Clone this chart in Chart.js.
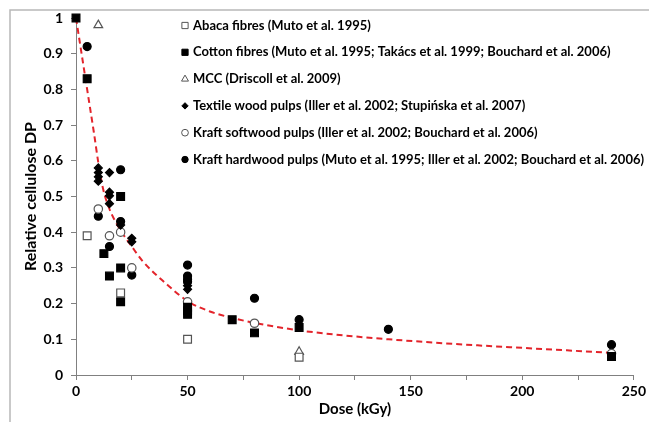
<!DOCTYPE html>
<html>
<head>
<meta charset="utf-8">
<script src="https://cdn.jsdelivr.net/npm/chart.js@4.4.1/dist/chart.umd.min.js"></script>
<style>
    html, body { margin: 0; padding: 0; background: #fff; }
    #wrap { position: relative; width: 649px; height: 422px; }
</style>
</head>
<body>
<div id="wrap"><canvas id="chart" width="649" height="422"></canvas></div>
<script>
// values (dose in kGy, relative DP)
const abacaDose    = [5, 20, 50, 100]
const abacaDP      = [0.39, 0.23, 0.10, 0.05]

const cottonDose   = [0, 5, 12.5, 15, 20, 20, 20, 50, 50, 50, 70, 80, 100, 240]
const cottonDP     = [1.0, 0.83, 0.34, 0.277, 0.50, 0.30, 0.205, 0.19, 0.18, 0.17, 0.155, 0.118, 0.133, 0.052]

const mccDose      = [10, 100]
const mccDP        = [0.98, 0.065]

const textileDose  = [10, 10, 10, 10, 15, 15, 15, 15, 20, 25, 25, 50, 50]
const textileDP    = [0.58, 0.567, 0.555, 0.543, 0.567, 0.512, 0.502, 0.48, 0.42, 0.383, 0.373, 0.25, 0.24]

const softwoodDose = [10, 15, 20, 25, 50, 80, 240]
const softwoodDP   = [0.465, 0.39, 0.40, 0.30, 0.205, 0.145, 0.06]

const hardwoodDose = [5, 10, 15, 20, 20, 25, 50, 50, 50, 50, 80, 100, 140, 240]
const hardwoodDP   = [0.92, 0.445, 0.36, 0.575, 0.43, 0.28, 0.308, 0.277, 0.268, 0.261, 0.215, 0.155, 0.128, 0.085]

// red dashed trend line, read at these doses
const fitDose = [0, 2, 4, 6, 8, 10, 12, 15, 20, 25, 30, 40, 50, 60, 70, 80, 100, 120, 140, 160, 180, 200, 220, 240]
const fitDP   = [1.0, 0.92, 0.84, 0.76, 0.68, 0.595, 0.525, 0.465, 0.405, 0.36, 0.318, 0.258, 0.207, 0.178, 0.16, 0.146, 0.125, 0.111, 0.10, 0.091, 0.083, 0.076, 0.069, 0.062]

const seriesNames = [
    'Abaca fibres (Muto et al. 1995)',
    'Cotton fibres (Muto et al. 1995; Takács et al. 1999; Bouchard et al. 2006)',
    'MCC (Driscoll et al. 2009)',
    'Textile wood pulps (Iller et al. 2002; Stupińska et al. 2007)',
    'Kraft softwood pulps (Iller et al. 2002; Bouchard et al. 2006)',
    'Kraft hardwood pulps (Muto et al. 1995; Iller et al. 2002; Bouchard et al. 2006)'
]

const xTicks = [0, 50, 100, 150, 200, 250]

function pairs(xs, ys) {
    return xs.map((x, i) => ({ x: x, y: ys[i] }))
}

function series(name, xs, ys, style, radius, fill, stroke) {
    return {
        label: name,
        data: pairs(xs, ys),
        pointStyle: style,
        pointRadius: radius,
        pointHoverRadius: radius,
        pointBackgroundColor: fill,
        pointBorderColor: stroke,
        pointBorderWidth: 1.2,
        showLine: false,
        clip: false
    }
}

let datasets = [
    series(seriesNames[0], abacaDose, abacaDP, 'rect', 5.5, '#fff', '#555'),
    series(seriesNames[1], cottonDose, cottonDP, 'rect', 5.5, '#000', '#000'),
    series(seriesNames[2], mccDose, mccDP, 'triangle', 5, '#fff', '#555'),
    series(seriesNames[3], textileDose, textileDP, 'rectRot', 4, '#000', '#000'),
    series(seriesNames[4], softwoodDose, softwoodDP, 'circle', 4.2, '#fff', '#555'),
    series(seriesNames[5], hardwoodDose, hardwoodDP, 'circle', 4, '#000', '#000'),
    {
        label: 'fit',
        data: pairs(fitDose, fitDP),
        showLine: true,
        borderColor: '#e3242b',
        borderWidth: 2,
        borderDash: [6, 4],
        pointRadius: 0,
        cubicInterpolationMode: 'monotone',
        clip: false
    }
]

function drawMarker(ctx, ds, x, y, r) {
    ctx.beginPath()
    if (ds.pointStyle === 'rect') {
        let s = r * Math.SQRT1_2
        ctx.rect(x - s, y - s, 2 * s, 2 * s)
    } else if (ds.pointStyle === 'rectRot') {
        ctx.moveTo(x, y - r); ctx.lineTo(x + r, y); ctx.lineTo(x, y + r); ctx.lineTo(x - r, y); ctx.closePath()
    } else if (ds.pointStyle === 'triangle') {
        ctx.moveTo(x, y - r); ctx.lineTo(x + r * 0.87, y + r * 0.5); ctx.lineTo(x - r * 0.87, y + r * 0.5); ctx.closePath()
    } else {
        ctx.arc(x, y, r, 0, Math.PI * 2)
    }
    ctx.fillStyle = ds.pointBackgroundColor
    ctx.strokeStyle = ds.pointBorderColor
    ctx.lineWidth = 1
    ctx.fill()
    ctx.stroke()
}

const framePlugin = {
    id: 'frame',
    beforeDraw(chart) {
        let ctx = chart.ctx
        ctx.save()
        ctx.fillStyle = '#fff'
        ctx.fillRect(0, 0, chart.width, chart.height)
        ctx.strokeStyle = '#b8b8b8'
        ctx.lineWidth = 1.5
        ctx.beginPath()
        ctx.moveTo(10, chart.height)
        ctx.lineTo(10, 10)
        ctx.lineTo(chart.width, 10)
        ctx.stroke()
        ctx.restore()
    }
}

const legendPlugin = {
    id: 'insideLegend',
    afterDraw(chart) {
        let ctx = chart.ctx
        ctx.save()
        seriesNames.forEach((name, i) => {
            let y = 25.5 + i * 26.8
            let ds = chart.data.datasets[i]
            drawMarker(ctx, ds, 185, y, ds.pointRadius * 0.8)
            ctx.font = 'bold 13px Lato'
            ctx.textBaseline = 'middle'
            ctx.fillStyle = '#000'
            ctx.fillText(name, 193, y)
        })
        ctx.restore()
    }
}

Chart.defaults.font.family = 'Lato'
Chart.defaults.font.weight = 'bold'
Chart.defaults.color = '#000'

new Chart(document.getElementById('chart'), {
    type: 'scatter',
    data: { datasets: datasets },
    plugins: [framePlugin, legendPlugin],
    options: {
        responsive: false,
        animation: false,
        layout: { padding: { left: 10, top: 18, right: 15, bottom: 0 } },
        plugins: { legend: { display: false }, tooltip: { enabled: false } },
        scales: {
            x: {
                type: 'linear',
                min: 0,
                max: 250,
                afterFit: (s) => { s.height = 47 },
                ticks: {
                    stepSize: 25,
                    autoSkip: false,
                    maxRotation: 0,
                    padding: 3,
                    font: { size: 14, weight: 'bold' },
                    callback: (v) => xTicks.includes(v) ? String(v) : ''
                },
                grid: { drawOnChartArea: false, tickLength: 5, color: '#808080' },
                border: { color: '#808080' },
                title: {
                    display: true,
                    text: 'Dose (kGy)',
                    font: { size: 15, weight: 'bold' },
                    padding: { top: 0, bottom: 4 }
                }
            },
            y: {
                type: 'linear',
                min: 0,
                max: 1,
                afterFit: (s) => { s.width = 66 },
                ticks: {
                    stepSize: 0.1,
                    padding: 8,
                    font: { size: 14, weight: 'bold' },
                    callback: (v) => String(+v.toFixed(1))
                },
                grid: { drawOnChartArea: false, tickLength: 5, color: '#808080' },
                border: { color: '#808080' },
                title: {
                    display: true,
                    text: 'Relative cellulose DP',
                    font: { size: 16, weight: 'bold' },
                    padding: { top: 11, bottom: 0 }
                }
            }
        }
    }
})
</script>
</body>
</html>
